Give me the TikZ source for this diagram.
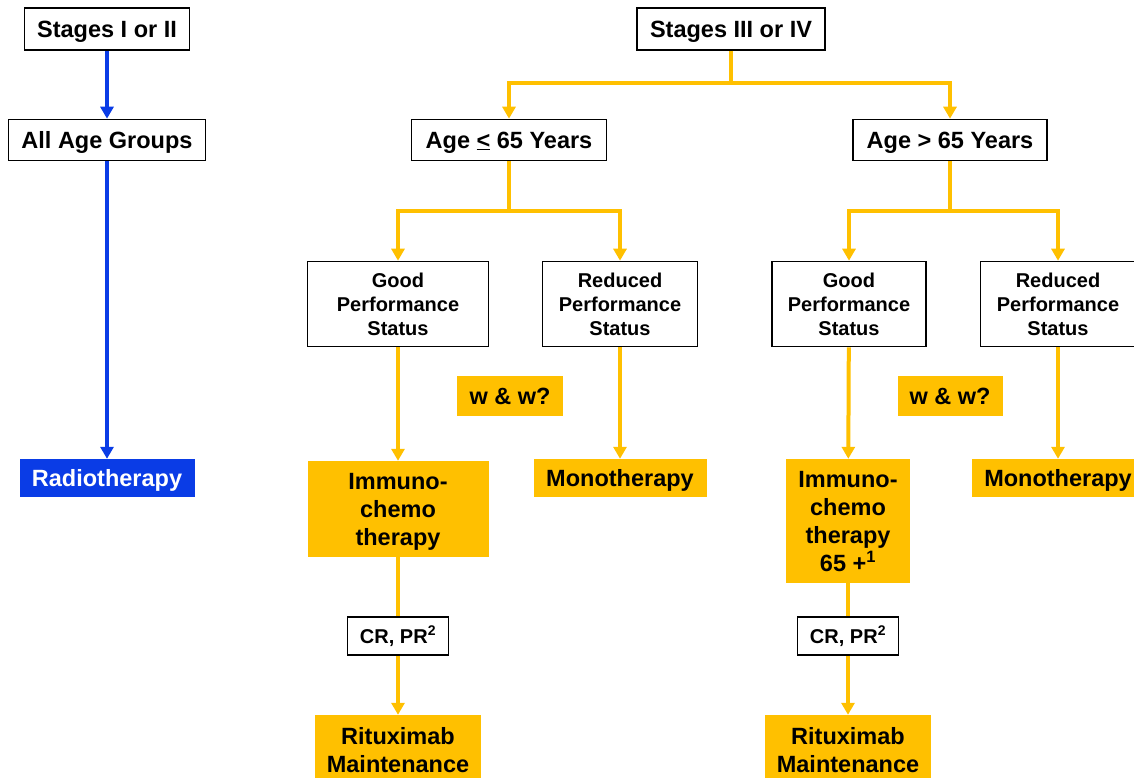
\documentclass[tikz,border=0pt]{standalone}
\usepackage{fontspec}
\setmainfont{Liberation Sans}
\usetikzlibrary{arrows.meta}

\definecolor{treatyellow}{RGB}{255,192,0}
\definecolor{treatblue}{RGB}{10,60,230}

\tikzset{
    every node/.style={inner sep=0pt, align=center, font=\bfseries},
    wbox/.style={draw=black, line width=1.6pt, fill=white},
    ybox/.style={fill=treatyellow},
    bbox/.style={fill=treatblue, text=white},
    yline/.style={treatyellow, line width=4pt},
    yarrow/.style={yline, -{Triangle[length=12pt,width=13pt]}},
    barrow/.style={treatblue, line width=4pt, -{Triangle[length=12pt,width=13pt]}},
    bigtext/.style={font=\fontsize{23.5}{28}\selectfont\bfseries, text depth=0pt},
    midtext/.style={font=\fontsize{20}{24}\selectfont\bfseries},
    smalltext/.style={font=\fontsize{20}{22}\selectfont\bfseries}
}

\begin{document}
\begin{tikzpicture}[x=1pt, y=-1pt]
    \useasboundingbox (0,0) rectangle (1134,778);
    \clip (0,0) rectangle (1134,778);

    % stages I or II
    \node (stage12) [wbox, bigtext, minimum width=165pt, minimum height=42pt] at (107,29) {Stages I or II};
    \node (allages) [wbox, bigtext, minimum width=197pt, minimum height=41pt] at (107,140) {All Age Groups};
    \node (radio) [bbox, bigtext, minimum width=175pt, minimum height=38pt] at (107,478) {Radiotherapy};

    % stages III or IV
    \node (stage34) [wbox, bigtext, minimum width=188pt, minimum height=42pt] at (731,29) {Stages III or IV};
    \node (agelow) [wbox, bigtext, minimum width=195pt, minimum height=41pt] at (509,140) {Age \underline{<} 65 Years};
    \node (agehigh) [wbox, bigtext, minimum width=194pt, minimum height=41pt] at (950,140) {Age > 65 Years};

    \node (goodlow) [wbox, midtext, minimum width=181pt, minimum height=85pt] at (398,304) {Good\\Performance\\Status};
    \node (redlow) [wbox, midtext, minimum width=155pt, minimum height=85pt] at (620,304) {Reduced\\Performance\\Status};
    \node (goodhigh) [wbox, midtext, minimum width=154pt, minimum height=85pt] at (849,304) {Good\\Performance\\Status};
    \node (redhigh) [wbox, midtext, minimum width=155pt, minimum height=85pt] at (1058,304) {Reduced\\Performance\\Status};

    \node (wwlow) [ybox, bigtext, minimum width=106pt, minimum height=40pt] at (510,396) {w \& w?};
    \node (wwhigh) [ybox, bigtext, minimum width=105pt, minimum height=40pt] at (950,396) {w \& w?};

    \node (immlow) [ybox, bigtext, minimum width=181pt, minimum height=96pt] at (398,509) {Immuno-\\chemo\\therapy};
    \node (monolow) [ybox, bigtext, minimum width=173pt, minimum height=38pt] at (620,478) {Monotherapy};
    \node (immhigh) [ybox, bigtext, minimum width=124pt, minimum height=124pt] at (848,521) {Immuno-\\chemo\\therapy\\65 +\textsuperscript{1}};
    \node (monohigh) [ybox, bigtext, minimum width=172pt, minimum height=38pt] at (1058,478) {Monotherapy};

    \node (crlow) [wbox, smalltext, minimum width=101pt, minimum height=38pt] at (398,636) {CR, PR\textsuperscript{2}};
    \node (crhigh) [wbox, smalltext, minimum width=101pt, minimum height=38pt] at (848,636) {CR, PR\textsuperscript{2}};

    \node (ritlow) [ybox, bigtext, minimum width=166pt, minimum height=70pt] at (398,750) {Rituximab\\Maintenance};
    \node (rithigh) [ybox, bigtext, minimum width=166pt, minimum height=70pt] at (848,750) {Rituximab\\Maintenance};

    % connectors
    \draw[barrow] (stage12) -- (allages);
    \draw[barrow] (allages) -- (radio);

    \draw[yarrow] (stage34.south) -- ++(0,32) -| (agelow);
    \draw[yarrow] (stage34.south) -- ++(0,32) -| (agehigh);
    \draw[yarrow] (agelow.south) -- ++(0,50) -| (goodlow);
    \draw[yarrow] (agelow.south) -- ++(0,50) -| (redlow);
    \draw[yarrow] (agehigh.south) -- ++(0,50) -| (goodhigh);
    \draw[yarrow] (agehigh.south) -- ++(0,50) -| (redhigh);

    \draw[yarrow] (goodlow) -- (immlow);
    \draw[yarrow] (redlow) -- (monolow);
    \draw[yarrow] (goodhigh) -- (immhigh);
    \draw[yarrow] (redhigh) -- (monohigh);

    \draw[yline] (immlow) -- (crlow);
    \draw[yline] (immhigh) -- (crhigh);
    \draw[yarrow] (crlow) -- (ritlow);
    \draw[yarrow] (crhigh) -- (rithigh);
\end{tikzpicture}
\end{document}
